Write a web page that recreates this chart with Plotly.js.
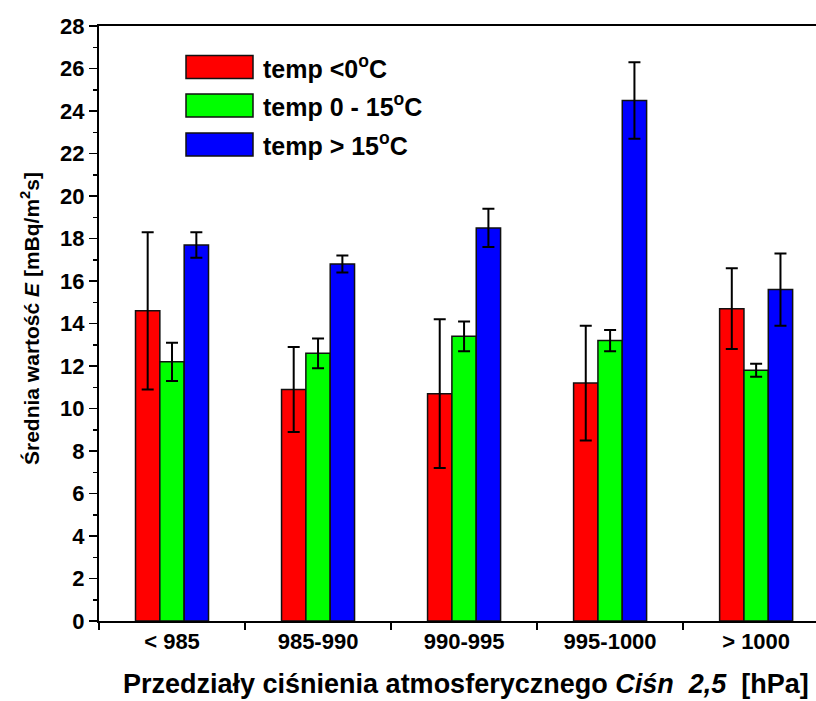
<!DOCTYPE html>
<html>
<head>
<meta charset="utf-8">
<script src="https://cdn.plot.ly/plotly-3.0.1.min.js"></script>
<style>html,body{margin:0;padding:0;background:#fff;}#chart{width:816px;height:701px;}</style>
</head>
<body>
<div id="chart"></div>
<script>
const categories = ["&lt; 985", "985-990", "990-995", "995-1000", "&gt; 1000"];
const seriesNames = ["temp &lt;0<sup>o</sup>C", "temp 0 - 15<sup>o</sup>C", "temp &gt; 15<sup>o</sup>C"];
const tempBelow0 = [14.6, 10.9, 10.7, 11.2, 14.7];
const tempBelow0Err = [3.7, 2.0, 3.5, 2.7, 1.9];
const temp0to15 = [12.2, 12.6, 13.4, 13.2, 11.8];
const temp0to15Err = [0.9, 0.7, 0.7, 0.5, 0.3];
const tempAbove15 = [17.7, 16.8, 18.5, 24.5, 15.6];
const tempAbove15Err = [0.6, 0.4, 0.9, 1.8, 1.7];
const yTickValues = [0, 2, 4, 6, 8, 10, 12, 14, 16, 18, 20, 22, 24, 26, 28];
const xTitle = "Przedziały ciśnienia atmosferycznego <i>Ciśn&nbsp;&nbsp;2,5</i>&nbsp;&nbsp;[hPa]";
const yTitle = "Średnia wartość <i>E</i> [mBq/m<sup>2</sup>s]";
const colors = ["#ff0000", "#00ff00", "#0000ff"];

const values = [tempBelow0, temp0to15, tempAbove15];
const errs = [tempBelow0Err, temp0to15Err, tempAbove15Err];

const traces = values.map((v, i) => ({
  type: "bar",
  x: categories,
  y: v,
  name: seriesNames[i],
  marker: {color: colors[i], line: {color: "#111", width: 1.5}},
  error_y: {type: "data", array: errs[i], visible: true, color: "#000", thickness: 2, width: 6},
  showlegend: false
}));

const font = {family: "Liberation Sans, Arial, sans-serif", color: "#000"};
const W = 717, H = 595, L = 99, B = 621;
const px = x => (x - L) / W;
const py = y => (B - y) / H;

const shapes = [];
const annotations = [];
const legY = [67, 105.5, 144.5];
seriesNames.forEach((n, i) => {
  shapes.push({type: "rect", xref: "paper", yref: "paper",
    x0: px(186), x1: px(253), y0: py(legY[i] + 11.5), y1: py(legY[i] - 11.5),
    fillcolor: colors[i], line: {color: "#111", width: 1.5}});
  annotations.push({xref: "paper", yref: "paper", x: px(261), y: py(legY[i]),
    xanchor: "left", yanchor: "middle", showarrow: false, text: "<b>" + n + "</b>",
    font: Object.assign({}, font, {size: 25})});
});
annotations.push({xref: "paper", yref: "paper", x: px(466), y: py(684),
  xanchor: "center", yanchor: "middle", showarrow: false, text: "<b>" + xTitle + "</b>",
  font: Object.assign({}, font, {size: 27})});
annotations.push({xref: "paper", yref: "paper", x: px(30), y: py(319), textangle: -90,
  xanchor: "center", yanchor: "middle", showarrow: false, text: "<b>" + yTitle + "</b>",
  font: Object.assign({}, font, {size: 21})});

const layout = {
  width: 816, height: 701,
  margin: {l: 99, r: 0, t: 26, b: 80},
  paper_bgcolor: "#fff", plot_bgcolor: "#fff",
  barmode: "group", bargap: 0.5, bargroupgap: 0,
  font: font,
  xaxis: {
    type: "category", range: [-0.5, 4.41],
    tickmode: "array", tickvals: categories, ticktext: categories.map(c => "<b>" + c + "</b>"),
    tickson: "boundaries", ticks: "outside", ticklen: 7, tickwidth: 1.5, tickcolor: "#000",
    showline: true, linecolor: "#000", linewidth: 2, mirror: true,
    showgrid: false, zeroline: false,
    tickfont: Object.assign({}, font, {size: 22, weight: 700}),
    automargin: false
  },
  yaxis: {
    range: [0, 28], tickmode: "array", tickvals: yTickValues,
    ticktext: yTickValues.map(v => "<b>" + v + "</b>"),
    ticks: "outside", ticklen: 8, tickwidth: 1.5, tickcolor: "#000",
    minor: {dtick: 1, ticks: "outside", ticklen: 4, tickwidth: 1.5, tickcolor: "#000"},
    showline: true, linecolor: "#000", linewidth: 2,
    showgrid: false, zeroline: false,
    tickfont: Object.assign({}, font, {size: 22, weight: 700}),
    automargin: false
  },
  xaxis2: {overlaying: "x", range: [-0.5, 4.41], tickvals: [0.5, 1.5, 2.5, 3.5],
    ticks: "inside", ticklen: 6, tickwidth: 1.5, tickcolor: "#000", showticklabels: false,
    showgrid: false, zeroline: false, showline: false},
  yaxis2: {overlaying: "y", range: [0, 28], dtick: 2, ticks: "inside", ticklen: 4, tickwidth: 1.5,
    tickcolor: "#000", showticklabels: false, showgrid: false, zeroline: false, showline: false},
  shapes: shapes,
  annotations: annotations,
  showlegend: false
};

Plotly.newPlot("chart", traces, layout, {staticPlot: true, displayModeBar: false});
</script>
</body>
</html>
